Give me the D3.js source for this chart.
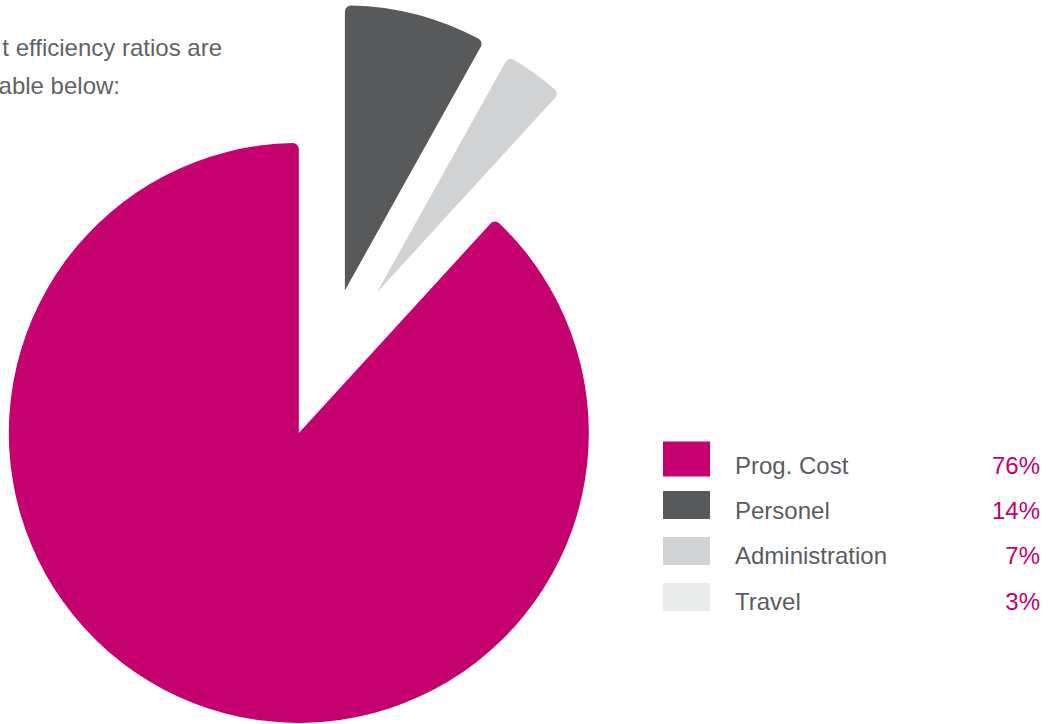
<!DOCTYPE html>
<html>
<head>
<meta charset="utf-8">
<script src="https://cdn.jsdelivr.net/npm/d3@7"></script>
<style>
  body { margin: 0; background: #fff; }
  text { font-family: "Liberation Sans", Arial, sans-serif; }
</style>
</head>
<body>
<div id="chart"></div>
<script>
// categories and legend values
const categories = ["Prog. Cost", "Personel", "Administration", "Travel"];
const legendPct = [76, 14, 7, 3];
// share of the circle each slice takes in the drawing
const sliceShare = [88.2, 8.1, 3.7, 0];
const colors = ["#c5006f", "#58595b", "#d1d2d4", "#eaebeb"];

// intro text lines (cut off on the left in the original)
const introLines = ["t efficiency ratios are", "able below:"];

const width = 1050;
const height = 724;

const svg = d3.select("#chart")
    .append("svg")
    .attr("width", width)
    .attr("height", height);

const data = categories.map((c, i) => ({
    name: c,
    pct: legendPct[i],
    share: sliceShare[i],
    color: colors[i]
}));

// pie
const center = { x: 326, y: 363 };
const explode = [75, 75, 87, 80];   // how far each slice is pulled out
const radius = [290, 285, 270, 270];

const total = d3.sum(data, d => d.share);
const start = 2 * Math.PI * (1 - data[0].share / total);

const pie = d3.pie()
    .sort(null)
    .value(d => d.share)
    .startAngle(start)
    .endAngle(start + 2 * Math.PI);

const arcs = pie(data);

const g = svg.append("g")
    .attr("transform", `translate(${center.x},${center.y})`);

g.selectAll(".slice")
    .data(arcs.filter(d => d.data.share > 0))
    .enter()
    .append("path")
    .attr("class", "slice")
    .attr("fill", d => d.data.color)
    .attr("transform", d => {
        const i = d.index;
        const mid = (d.startAngle + d.endAngle) / 2;
        return `translate(${explode[i] * Math.sin(mid)},${-explode[i] * Math.cos(mid)})`;
    })
    .attr("d", d => d3.arc()
        .innerRadius(0)
        .outerRadius(radius[d.index])
        .cornerRadius(6)(d));

// intro text
svg.selectAll(".intro")
    .data(introLines)
    .enter()
    .append("text")
    .attr("class", "intro")
    .attr("x", (d, i) => i === 0 ? 222 : 120)
    .attr("y", (d, i) => 56 + i * 38)
    .attr("text-anchor", "end")
    .attr("font-size", 24)
    .attr("fill", "#626366")
    .text(d => d);

// legend
const rowY = d3.scaleLinear().domain([0, 3]).range([459, 597]);

const legend = svg.selectAll(".legend")
    .data(data)
    .enter()
    .append("g")
    .attr("class", "legend");

legend.append("rect")
    .attr("x", 663)
    .attr("y", (d, i) => rowY(i) - (i === 0 ? 17.5 : 14))
    .attr("width", 47)
    .attr("height", (d, i) => i === 0 ? 35 : 28)
    .attr("fill", d => d.color);

legend.append("text")
    .attr("x", 735)
    .attr("y", (d, i) => rowY(i) + 15 - i * 0.8)
    .attr("font-size", 24)
    .attr("fill", "#5b5c5f")
    .text(d => d.name);

legend.append("text")
    .attr("x", 1040)
    .attr("y", (d, i) => rowY(i) + 15 - i * 0.8)
    .attr("text-anchor", "end")
    .attr("font-size", 24)
    .attr("fill", colors[0])
    .text(d => d.pct + "%");
</script>
</body>
</html>
